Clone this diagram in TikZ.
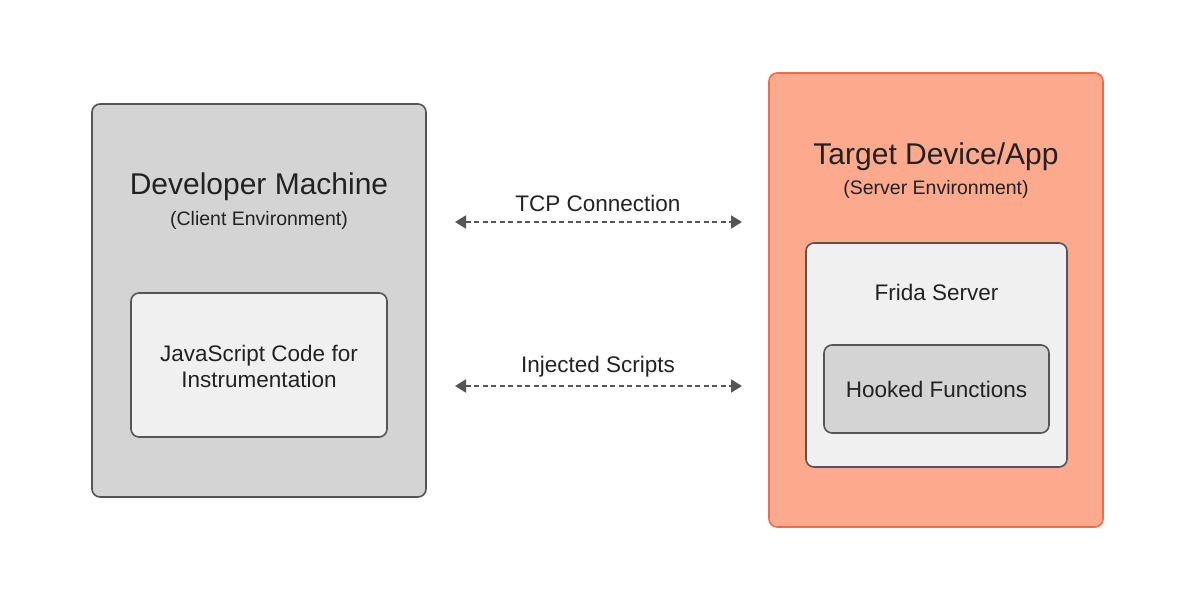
\documentclass[tikz,border=0pt]{standalone}
\usepackage{fontspec}
\setmainfont{Liberation Sans}
\usetikzlibrary{arrows.meta}
\definecolor{boxgray}{HTML}{D4D4D4}
\definecolor{lightbox}{HTML}{F0F0F0}
\definecolor{edgegray}{HTML}{555555}
\definecolor{salmon}{HTML}{FCA98D}
\definecolor{salmonedge}{HTML}{F26C4B}
\definecolor{txt}{HTML}{222222}
\tikzset{
  panel/.style={draw=edgegray, line width=1.6pt, rounded corners=8pt, inner sep=0pt},
  lbl/.style={text=txt, inner sep=0pt, anchor=center},
  big/.style={font=\fontsize{30}{34}\selectfont},
  sub/.style={font=\fontsize{19.5}{22}\selectfont},
  mid/.style={font=\fontsize{22.5}{26}\selectfont},
  conn/.style={draw=edgegray, line width=1.8pt, dash pattern=on 5pt off 3.5pt,
    {Triangle[length=11pt,width=13pt]}-{Triangle[length=11pt,width=13pt]}},
}
\begin{document}
\begin{tikzpicture}[x=1pt,y=-1pt]
\useasboundingbox (0,0) rectangle (1196,599);
\fill[white] (0,0) rectangle (1196,599);
% left
\node[panel, fill=boxgray, minimum width=334pt, minimum height=393pt] (dev) at (259,300.5) {};
\node[lbl, big] (devt) at (259,186.5) {Developer Machine};
\node[lbl, sub] (devs) at (259,220.5) {(Client Environment)};
\node[panel, fill=lightbox, minimum width=256pt, minimum height=144pt] (js) at (259,365) {};
\node[lbl, mid, align=center] (jst) at (259,366) {JavaScript Code for\\Instrumentation};
% right
\node[panel, draw=salmonedge, fill=salmon, minimum width=334pt, minimum height=454pt] (tgt) at (936,300) {};
\node[lbl, big] (tgtt) at (936,157) {Target Device/App};
\node[lbl, sub] (tgts) at (936,189.5) {(Server Environment)};
\node[panel, fill=lightbox, minimum width=261pt, minimum height=224pt] (frida) at (936.5,355) {};
\node[lbl, mid] (fridat) at (936.5,292) {Frida Server};
\node[panel, fill=boxgray, minimum width=225pt, minimum height=88pt] (hook) at (936.5,389) {};
\node[lbl, mid] (hookt) at (936.5,389) {Hooked Functions};
% connectors
\coordinate (tcpL) at (455,222);
\coordinate (tcpR) at (742,222);
\coordinate (injL) at (455,386);
\coordinate (injR) at (742,386);
\draw[conn] (tcpL) -- (tcpR);
\draw[conn] (injL) -- (injR);
\node[lbl, mid] (tcpt) at (598,203) {TCP Connection};
\node[lbl, mid] (injt) at (598,367) {Injected Scripts};
\end{tikzpicture}
\end{document}
